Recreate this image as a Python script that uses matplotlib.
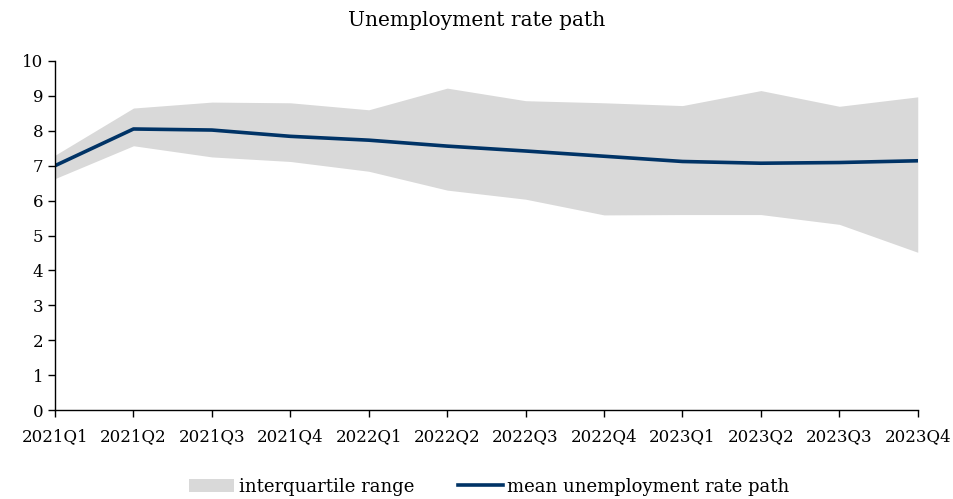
import matplotlib
matplotlib.use('Agg')
import matplotlib.pyplot as plt

plt.rcParams['font.family'] = ['DejaVu Serif']

quarters = ['2021Q1', '2021Q2', '2021Q3', '2021Q4', '2022Q1', '2022Q2',
            '2022Q3', '2022Q4', '2023Q1', '2023Q2', '2023Q3', '2023Q4']
mean_path = [7.0, 8.05, 8.02, 7.84, 7.73, 7.56, 7.42, 7.27, 7.12, 7.07, 7.09, 7.14]
q_upper = [7.3, 8.65, 8.82, 8.8, 8.6, 9.22, 8.86, 8.8, 8.72, 9.15, 8.7, 8.97]
q_lower = [6.63, 7.57, 7.25, 7.12, 6.84, 6.3, 6.04, 5.59, 5.6, 5.6, 5.32, 4.52]

x = list(range(len(quarters)))

fig = plt.figure(figsize=(9.54, 4.99), dpi=100)
ax = fig.add_axes([0.0577, 0.178, 0.9043, 0.7])

ax.fill_between(x, q_lower, q_upper, color='#d9d9d9', linewidth=0,
                label='interquartile range')
ax.plot(x, mean_path, color='#003366', linewidth=2.6,
        label='mean unemployment rate path')

ax.set_xlim(0, len(quarters) - 1)
ax.set_ylim(0, 10)
ax.set_yticks(range(0, 11))
ax.set_xticks(x)
ax.set_xticklabels(quarters)
ax.tick_params(labelsize=12, direction='out', length=5, width=1, colors='black')
ax.tick_params(axis='x', pad=8)
for s in ['top', 'right']:
    ax.spines[s].set_visible(False)
for s in ['left', 'bottom']:
    ax.spines[s].set_linewidth(1)

fig.text(0.5, 0.958, 'Unemployment rate path', ha='center', va='center', fontsize=14.5)

fig.legend(loc='center', bbox_to_anchor=(0.513, 0.025), ncol=2, frameon=False,
           fontsize=13, handlelength=2.5, columnspacing=2.4, handletextpad=0.25)

fig.savefig('out.png', dpi=100)
